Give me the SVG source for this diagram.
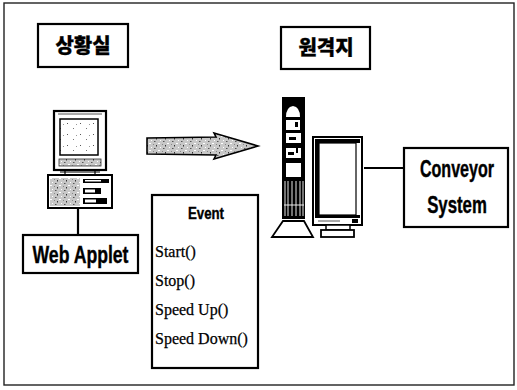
<svg xmlns="http://www.w3.org/2000/svg" width="517" height="390" viewBox="0 0 517 390">
  <defs>
    <style>
      .box { fill: #fff; stroke: #000; stroke-width: 2.2; }
      .ko { font-family: "Noto Sans CJK KR", sans-serif; font-weight: 900; font-size: 20px; fill: #000; stroke: #000; stroke-width: 0.3; }
      .lbl { font-family: "Liberation Sans", Arial, sans-serif; font-weight: bold; fill: #000; stroke: #000; stroke-width: 0.4; }
      .ser { font-family: "Liberation Serif", "Times New Roman", serif; font-size: 16px; fill: #000; stroke: #000; stroke-width: 0.25; }
      .wire { stroke: #000; stroke-width: 2.2; fill: none; }
      .ink { fill: #000; }
      .paper { fill: #fff; }
    </style>
    <!-- speckled grey used for screens and the transfer arrow -->
    <pattern id="speckle" width="9" height="7" patternUnits="userSpaceOnUse">
      <rect width="9" height="7" fill="#c8c8c8"/>
      <rect x="1" y="1" width="1.5" height="1" fill="#555"/>
      <rect x="5" y="3" width="2" height="1" fill="#fff"/>
      <rect x="3" y="5" width="1" height="1.5" fill="#333"/>
      <rect x="7" y="0" width="1" height="1" fill="#fff"/>
      <rect x="0" y="4" width="1" height="1" fill="#888"/>
    </pattern>
    <pattern id="sparse" width="13" height="11" patternUnits="userSpaceOnUse">
      <rect width="13" height="11" fill="#fff"/>
      <rect x="2" y="2" width="1" height="1" fill="#555"/>
      <rect x="8" y="7" width="1" height="1" fill="#777"/>
      <rect x="11" y="3" width="1" height="1" fill="#999"/>
    </pattern>
  </defs>

  <rect width="517" height="390" fill="#fff"/>
  <!-- outer frame -->
  <rect x="4" y="3" width="510" height="382" fill="none" stroke="#222" stroke-width="1.4"/>

  <!-- headings -->
  <g id="control-room">
    <rect class="box" x="38" y="24" width="90" height="43"/>
    <text class="ko" x="83" y="53" text-anchor="middle">상황실</text>
  </g>
  <g id="remote-site">
    <rect class="box" x="281" y="27" width="89" height="42"/>
    <text class="ko" x="326" y="55" text-anchor="middle">원격지</text>
  </g>

  <!-- client workstation -->
  <g id="client-pc">
    <rect x="54" y="111" width="52" height="59" fill="#fff" stroke="#000" stroke-width="2.2"/>
    <line x1="58" y1="114" x2="102" y2="114" stroke="#555" stroke-width="1"/>
    <rect x="60" y="119" width="38" height="36" fill="url(#sparse)" stroke="#000" stroke-width="1.5"/>
    <rect x="59" y="159" width="42" height="7" fill="url(#speckle)" stroke="#333" stroke-width="0.8"/>
    <line x1="65" y1="170" x2="65" y2="175" stroke="#000" stroke-width="1.2"/>
    <line x1="95" y1="170" x2="95" y2="175" stroke="#000" stroke-width="1.2"/>
    <line x1="60" y1="172" x2="100" y2="172" stroke="#000" stroke-width="1"/>
    <rect x="48" y="175" width="64" height="33" fill="#fff" stroke="#000" stroke-width="2"/>
    <rect x="50" y="178" width="30" height="28" fill="url(#speckle)"/>
    <rect x="83" y="179" width="26" height="4" class="ink"/>
    <rect x="85" y="180" width="16" height="1.5" class="paper"/>
    <rect x="83" y="188" width="18" height="6" class="ink"/>
    <rect x="85" y="189.5" width="10" height="3" class="paper"/>
    <rect x="83" y="198" width="24" height="6" class="ink"/>
    <rect x="85" y="199.5" width="11" height="3" class="paper"/>
  </g>

  <!-- condensed bold labels: narrowed with a horizontal scale -->
  <g id="web-applet">
    <rect class="box" x="23" y="235" width="115" height="38"/>
    <text class="lbl" font-size="24" text-anchor="middle" transform="translate(80.5 263) scale(0.735 1)">Web Applet</text>
  </g>

  <g id="event-list">
    <rect class="box" x="152" y="195" width="106" height="173"/>
    <text class="lbl" font-size="17" text-anchor="middle" transform="translate(206 219) scale(0.78 1)">Event</text>
    <text class="ser" x="155" y="257">Start()</text>
    <text class="ser" x="155" y="286">Stop()</text>
    <text class="ser" x="155" y="315">Speed Up()</text>
    <text class="ser" x="155" y="344">Speed Down()</text>
  </g>

  <!-- remote server: tower and monitor -->
  <g id="server">
    <rect x="282" y="97" width="23" height="122" class="ink"/>
    <path d="M286 117 Q286 107 293 106 Q300 107 300 117 Z" class="paper"/>
    <rect x="286" y="120" width="14" height="10" class="paper"/>
    <rect x="295" y="122" width="3" height="5" class="ink"/>
    <rect x="286" y="133" width="15" height="10" class="paper"/>
    <rect x="289" y="137" width="7" height="3" class="ink"/>
    <rect x="286" y="148" width="15" height="10" class="paper"/>
    <rect x="288" y="152" width="6" height="3" class="ink"/>
    <rect x="296" y="148" width="2" height="5" class="ink"/>
    <rect x="286" y="163" width="15" height="14" class="paper"/>
    <g stroke="#fff" stroke-width="0.9">
      <line x1="285" y1="181" x2="285" y2="216"/>
      <line x1="288" y1="181" x2="288" y2="216"/>
      <line x1="292" y1="181" x2="292" y2="216"/>
      <line x1="296" y1="181" x2="296" y2="216"/>
      <line x1="300" y1="181" x2="300" y2="216"/>
      <line x1="303" y1="181" x2="303" y2="216"/>
      <line x1="284" y1="205" x2="304" y2="205"/>
    </g>
    <path d="M283 221 L304 221 L313 237 L272 237 Z" fill="#fff" stroke="#000" stroke-width="1.8"/>

    <rect x="313" y="137" width="49" height="88" fill="#fff" stroke="#000" stroke-width="2"/>
    <rect x="315" y="139" width="45" height="4" class="ink"/>
    <rect x="315" y="139" width="4" height="78" class="ink"/>
    <rect x="319" y="143" width="37" height="72" fill="#fff" stroke="#000" stroke-width="1.2"/>
    <rect x="315" y="215" width="45" height="3" class="ink"/>
    <rect x="352" y="219" width="6" height="4" class="ink"/>
    <line x1="318" y1="221" x2="340" y2="221" stroke="#555" stroke-width="1"/>
    <rect x="326" y="225" width="24" height="5" fill="#fff" stroke="#000" stroke-width="1.5"/>
    <rect x="321" y="230" width="33" height="7" fill="#fff" stroke="#000" stroke-width="1.8"/>
  </g>

  <g id="conveyor-system">
    <rect class="box" x="404" y="148" width="104" height="79"/>
    <text class="lbl" font-size="23" text-anchor="middle" transform="translate(457 177) scale(0.70 1)">Conveyor</text>
    <text class="lbl" font-size="23" text-anchor="middle" transform="translate(457 213) scale(0.73 1)">System</text>
  </g>

  <!-- connectors -->
  <g id="connectors">
    <line class="wire" x1="78" y1="209" x2="78" y2="235"/>
    <line class="wire" x1="364" y1="168" x2="404" y2="168"/>
    <path d="M147 138 L216 137 L214 133 L258 146 L214 159 L216 155 L147 154 Z" fill="url(#speckle)" stroke="#000" stroke-width="1.6" stroke-linejoin="miter"/>
  </g>
</svg>
